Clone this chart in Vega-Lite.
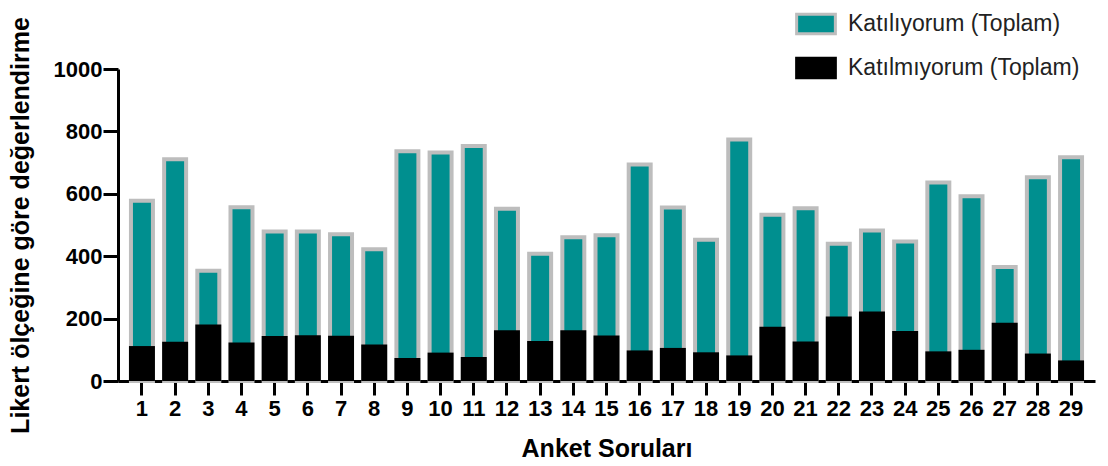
{
  "$schema": "https://vega.github.io/schema/vega-lite/v6.json",
  "autosize": "none",
  "width": 977,
  "height": 312,
  "padding": {"left": 118, "top": 69, "right": 13, "bottom": 85},
  "background": "white",
  "config": {
    "view": {"stroke": null},
    "font": "Liberation Sans",
    "axis": {"labelFont": "Liberation Sans", "titleFont": "Liberation Sans"}
  },
  "data": {
    "values": [
      {"q": "1", "series": "Katılıyorum (Toplam)", "value": 578}, {"q": "1", "series": "Katılmıyorum (Toplam)", "value": 112},
      {"q": "2", "series": "Katılıyorum (Toplam)", "value": 711}, {"q": "2", "series": "Katılmıyorum (Toplam)", "value": 126},
      {"q": "3", "series": "Katılıyorum (Toplam)", "value": 353}, {"q": "3", "series": "Katılmıyorum (Toplam)", "value": 181},
      {"q": "4", "series": "Katılıyorum (Toplam)", "value": 557}, {"q": "4", "series": "Katılmıyorum (Toplam)", "value": 123},
      {"q": "5", "series": "Katılıyorum (Toplam)", "value": 479}, {"q": "5", "series": "Katılmıyorum (Toplam)", "value": 144},
      {"q": "6", "series": "Katılıyorum (Toplam)", "value": 479}, {"q": "6", "series": "Katılmıyorum (Toplam)", "value": 147},
      {"q": "7", "series": "Katılıyorum (Toplam)", "value": 470}, {"q": "7", "series": "Katılmıyorum (Toplam)", "value": 145},
      {"q": "8", "series": "Katılıyorum (Toplam)", "value": 422}, {"q": "8", "series": "Katılmıyorum (Toplam)", "value": 117},
      {"q": "9", "series": "Katılıyorum (Toplam)", "value": 736}, {"q": "9", "series": "Katılmıyorum (Toplam)", "value": 74},
      {"q": "10", "series": "Katılıyorum (Toplam)", "value": 732}, {"q": "10", "series": "Katılmıyorum (Toplam)", "value": 91},
      {"q": "11", "series": "Katılıyorum (Toplam)", "value": 753}, {"q": "11", "series": "Katılmıyorum (Toplam)", "value": 77},
      {"q": "12", "series": "Katılıyorum (Toplam)", "value": 552}, {"q": "12", "series": "Katılmıyorum (Toplam)", "value": 163},
      {"q": "13", "series": "Katılıyorum (Toplam)", "value": 408}, {"q": "13", "series": "Katılmıyorum (Toplam)", "value": 128},
      {"q": "14", "series": "Katılıyorum (Toplam)", "value": 461}, {"q": "14", "series": "Katılmıyorum (Toplam)", "value": 163},
      {"q": "15", "series": "Katılıyorum (Toplam)", "value": 467}, {"q": "15", "series": "Katılmıyorum (Toplam)", "value": 146},
      {"q": "16", "series": "Katılıyorum (Toplam)", "value": 694}, {"q": "16", "series": "Katılmıyorum (Toplam)", "value": 98},
      {"q": "17", "series": "Katılıyorum (Toplam)", "value": 556}, {"q": "17", "series": "Katılmıyorum (Toplam)", "value": 106},
      {"q": "18", "series": "Katılıyorum (Toplam)", "value": 453}, {"q": "18", "series": "Katılmıyorum (Toplam)", "value": 92},
      {"q": "19", "series": "Katılıyorum (Toplam)", "value": 774}, {"q": "19", "series": "Katılmıyorum (Toplam)", "value": 82},
      {"q": "20", "series": "Katılıyorum (Toplam)", "value": 533}, {"q": "20", "series": "Katılmıyorum (Toplam)", "value": 174},
      {"q": "21", "series": "Katılıyorum (Toplam)", "value": 554}, {"q": "21", "series": "Katılmıyorum (Toplam)", "value": 127},
      {"q": "22", "series": "Katılıyorum (Toplam)", "value": 440}, {"q": "22", "series": "Katılmıyorum (Toplam)", "value": 207},
      {"q": "23", "series": "Katılıyorum (Toplam)", "value": 482}, {"q": "23", "series": "Katılmıyorum (Toplam)", "value": 223},
      {"q": "24", "series": "Katılıyorum (Toplam)", "value": 447}, {"q": "24", "series": "Katılmıyorum (Toplam)", "value": 160},
      {"q": "25", "series": "Katılıyorum (Toplam)", "value": 636}, {"q": "25", "series": "Katılmıyorum (Toplam)", "value": 95},
      {"q": "26", "series": "Katılıyorum (Toplam)", "value": 592}, {"q": "26", "series": "Katılmıyorum (Toplam)", "value": 100},
      {"q": "27", "series": "Katılıyorum (Toplam)", "value": 365}, {"q": "27", "series": "Katılmıyorum (Toplam)", "value": 187},
      {"q": "28", "series": "Katılıyorum (Toplam)", "value": 653}, {"q": "28", "series": "Katılmıyorum (Toplam)", "value": 88},
      {"q": "29", "series": "Katılıyorum (Toplam)", "value": 717}, {"q": "29", "series": "Katılmıyorum (Toplam)", "value": 66}
    ]
  },
  "encoding": {
    "x": {
      "field": "q", "type": "ordinal", "sort": null,
      "scale": {"paddingInner": 0.217, "paddingOuter": 0.33},
      "axis": {
        "title": "Anket Soruları", "labelAngle": 0, "labelFontSize": 22, "labelFontWeight": "bold", "labelColor": "#000",
        "titleFontSize": 25, "titleFontWeight": "bold", "titleColor": "#000", "titlePadding": 17,
        "domainColor": "#000", "domainWidth": 3, "tickColor": "#000", "tickWidth": 3, "tickSize": 14, "labelPadding": 3
      }
    },
    "y": {
      "field": "value", "type": "quantitative",
      "scale": {"domain": [0, 1000], "nice": false},
      "axis": {
        "title": "Likert ölçeğine göre değerlendirme", "values": [0, 200, 400, 600, 800, 1000], "format": "d", "grid": false,
        "labelFontSize": 22, "labelFontWeight": "bold", "labelColor": "#000", "labelPadding": 1,
        "titleFontSize": 25, "titleFontWeight": "bold", "titleColor": "#000", "titlePadding": 20,
        "domainColor": "#000", "domainWidth": 3, "tickColor": "#000", "tickWidth": 3, "tickSize": 15
      }
    },
    "fill": {
      "field": "series", "type": "nominal",
      "scale": {"domain": ["Katılıyorum (Toplam)", "Katılmıyorum (Toplam)"], "range": ["#008f8f", "#000000"]},
      "legend": {
        "title": null, "orient": "none", "legendX": 677, "legendY": -66,
        "labelFontSize": 23, "labelColor": "#222", "labelFont": "Liberation Sans", "labelLimit": 0,
        "symbolType": "M-1,-0.5H1V0.5H-1Z", "symbolSize": 1500, "symbolStrokeWidth": 3,
        "rowPadding": 7, "labelOffset": 11
      }
    },
    "stroke": {
      "field": "series", "type": "nominal",
      "scale": {"domain": ["Katılıyorum (Toplam)", "Katılmıyorum (Toplam)"], "range": ["#bdbdbd", "#000000"]},
      "legend": {"title": null}
    }
  },
  "layer": [
    {
      "transform": [{"filter": "datum.series === 'Katılıyorum (Toplam)'"}],
      "mark": {"type": "bar", "width": {"band": 0.846}, "strokeWidth": 4, "strokeJoin": "miter"}
    },
    {
      "transform": [{"filter": "datum.series === 'Katılmıyorum (Toplam)'"}],
      "mark": {"type": "bar", "strokeWidth": 0}
    }
  ]
}
